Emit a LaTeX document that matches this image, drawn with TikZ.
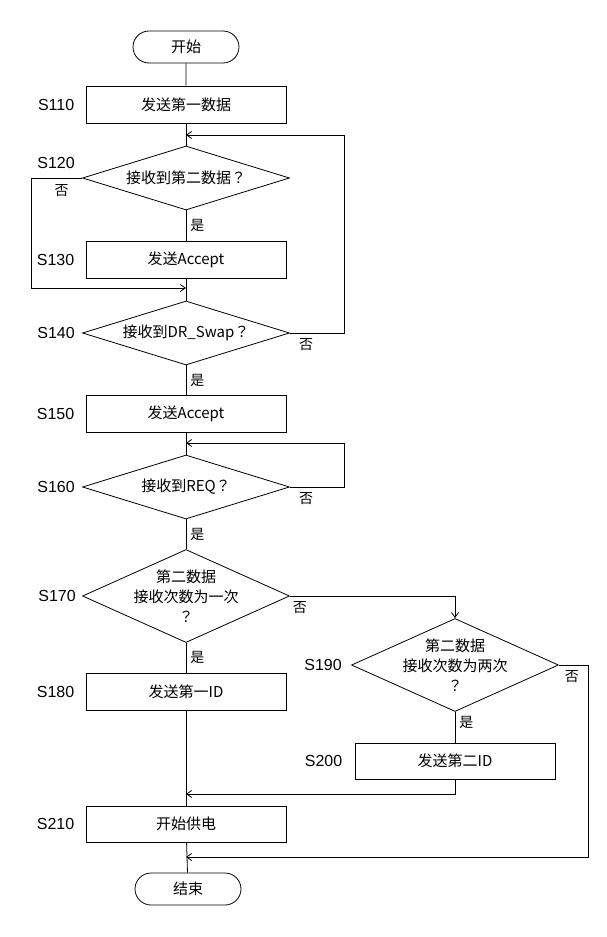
\documentclass[tikz,border=0pt]{standalone}
\usepackage{fontspec}
\setmainfont{Noto Sans CJK JP}
\newfontfamily\stepfont{Liberation Sans}
\usetikzlibrary{shapes.geometric,shapes.misc,arrows.meta,positioning}

\begin{document}
\begin{tikzpicture}[x=1pt,y=-1pt,line width=0.8pt,
  term/.style={draw,rounded rectangle,minimum width=106pt,minimum height=32pt,inner sep=0pt,font=\fontsize{15}{17}\selectfont},
  proc/.style={draw,rectangle,minimum width=200pt,minimum height=37pt,inner sep=0pt,font=\fontsize{15}{17}\selectfont},
  dec/.style={draw,diamond,aspect=3.23,minimum width=207pt,minimum height=64pt,inner sep=0pt,align=center,font=\fontsize{15}{20}\selectfont},
  bigdec/.style={dec,aspect=2.22,minimum width=207pt,minimum height=93pt},
  dectext/.style={align=center,inner sep=0pt,font=\fontsize{15}{20}\selectfont},
  steplbl/.style={inner sep=0pt,font=\stepfont\fontsize{16}{18}\selectfont},
  yn/.style={inner sep=2pt,font=\fontsize{14}{16}\selectfont},
  flow/.style={-{Straight Barb[length=5pt,width=7pt]}}]
\useasboundingbox (0,0) rectangle (606,937);
%
\node[term] (start) at (186,47) {开始};
\node[proc] (s110) at (186,104.5) {发送第一数据};
\node[dec] (s120) at (186,178) {接收到第二数据？};
\node[proc] (s130) at (186,259.5) {发送Accept};
\node[dec] (s140) at (186,333) {接收到DR\_Swap？};
\node[proc] (s150) at (186,413.5) {发送Accept};
\node[dec] (s160) at (186,487) {接收到REQ？};
\node[bigdec,label={[dectext]center:第二数据\\接收次数为一次\\？}] (s170) at (186,596) {};
\node[proc] (s180) at (186,691.5) {发送第一ID};
\node[bigdec,label={[dectext]center:第二数据\\接收次数为两次\\？}] (s190) at (455,665) {};
\node[proc,minimum height=36pt] (s200) at (455,761) {发送第二ID};
\node[proc,minimum height=36pt] (s210) at (186,824) {开始供电};
\node[term] (end) at (188,889) {结束};
%
\node[steplbl,left=11pt of s110] (l110) {S110};
\node[steplbl,above left=9pt and 7pt of s120.west] (l120) {S120};
\node[steplbl,left=11pt of s130] (l130) {S130};
\node[steplbl,left=7pt of s140] (l140) {S140};
\node[steplbl,left=11pt of s150] (l150) {S150};
\node[steplbl,left=7pt of s160] (l160) {S160};
\node[steplbl,left=6pt of s170] (l170) {S170};
\node[steplbl,left=11pt of s180] (l180) {S180};
\node[steplbl,left=9pt of s190] (l190) {S190};
\node[steplbl,left=12pt of s200] (l200) {S200};
\node[steplbl,left=11pt of s210] (l210) {S210};
%
\coordinate (j1) at (186,135);
\coordinate (j2) at (186,288);
\coordinate (j3) at (186,443);
\coordinate (j4) at (186,794);
\coordinate (j5) at (186,857);
%
\draw (start) -- (s110);
\draw (s110) -- (s120);
\draw (s120) -- node[yn,right=2pt]{是} (s130);
\draw (s130) -- (s140);
\draw (s140) -- node[yn,right=2pt]{是} (s150);
\draw (s150) -- (s160);
\draw (s160) -- node[yn,right=2pt]{是} (s170);
\draw (s170) -- node[yn,right=2pt]{是} (s180);
\draw (s180) -- (s210);
\draw (s210) -- (end);
\draw (s190) -- node[yn,right=2pt,pos=0.35]{是} (s200);
%
\draw[flow] (s120.west) -- node[yn,below=4pt,pos=0.4]{否} ++(-51,0) |- (j2);
\draw[flow] (s140.east) -- node[yn,below=3pt,pos=0.3]{否} ++(54,0) |- (j1);
\draw[flow] (s160.east) -- node[yn,below=3pt,pos=0.3]{否} ++(54,0) |- (j3);
\draw[flow] (s170.east) -| node[yn,below=3pt,pos=0.03]{否} (s190.north);
\draw[flow] (s200.south) |- (j4);
\draw[flow] (s190.east) -- node[yn,below=3pt,pos=0.45]{否} ++(29,0) |- (j5);
\end{tikzpicture}
\end{document}
